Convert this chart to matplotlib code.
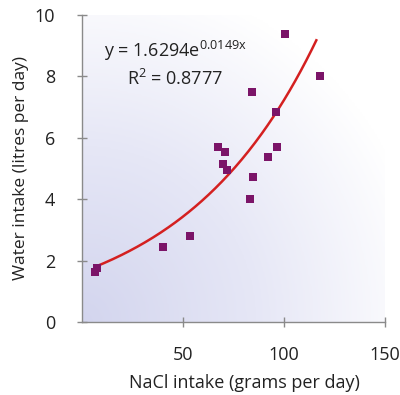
import numpy as np
import matplotlib
matplotlib.use('Agg')
import matplotlib.pyplot as plt
from matplotlib.colors import LinearSegmentedColormap

# NaCl intake (g/day) vs water intake (l/day)
nacl = [100.5, 117.9, 84.4, 96.2, 67.3, 70.7, 96.7, 92.3, 69.7, 71.7,
        84.9, 83.4, 53.6, 40.1, 7.5, 6.4]
water = [9.37, 8.0, 7.49, 6.84, 5.71, 5.53, 5.71, 5.38, 5.14, 4.94,
         4.73, 4.0, 2.81, 2.44, 1.77, 1.64]
fit_a = 1.6294
fit_b = 0.0149
fit_range = [6.5, 116]
xticks = [50, 100, 150]
yticks = [0, 2, 4, 6, 8, 10]

plt.rcParams['font.family'] = ['Open Sans', 'DejaVu Sans']

fig = plt.figure(figsize=(4, 3.95), dpi=100)
ax = fig.add_axes([0.205, 0.185, 0.7575, 0.777])

# lavender -> white gradient from lower-left corner
gx, gy = np.meshgrid(np.linspace(0, 1, 200), np.linspace(0, 1, 200))
g = np.clip(np.sqrt(gx ** 2 + gy ** 2) / 1.15, 0, 1)
cmap = LinearSegmentedColormap.from_list('bg', ['#d3d5ee', '#e6e7f6', '#ffffff'])
ax.imshow(g, extent=[0, 150, 0, 10], origin='lower', cmap=cmap,
          aspect='auto', zorder=0, interpolation='bilinear')

xs = np.linspace(fit_range[0], fit_range[1], 200)
ax.plot(xs, fit_a * np.exp(fit_b * xs), color='#d42020', lw=1.8, zorder=2)
ax.scatter(nacl, water, marker='s', s=26, color='#7b1468', zorder=3, lw=0)

ax.set_xlim(0, 150)
ax.set_ylim(0, 10)
ax.set_xticks(xticks)
ax.set_yticks(yticks)
for s in ['top', 'right']:
    ax.spines[s].set_visible(False)
for s in ['left', 'bottom']:
    ax.spines[s].set_color('#8a8a8a')
    ax.spines[s].set_linewidth(1)
ax.tick_params(direction='inout', length=7, width=1, color='#8a8a8a',
               labelsize=13, labelcolor='#222222')
ax.tick_params(axis='y', pad=16)
ax.tick_params(axis='x', pad=14)

ax.text(11, 8.62, r'y = 1.6294e$^{\mathregular{0.0149x}}$', fontsize=13,
        color='#222222')
ax.text(22.5, 7.72, r'R$^{\mathregular{2}}$ = 0.8777', fontsize=13,
        color='#222222')

ax.set_xlabel('NaCl intake (grams per day)', fontsize=13, color='#222222')
ax.xaxis.set_label_coords(0.535, -0.169)
ax.set_ylabel('Water intake (litres per day)', fontsize=12.5, color='#222222',
              labelpad=4)

fig.savefig('out.png', dpi=100, facecolor='white')
